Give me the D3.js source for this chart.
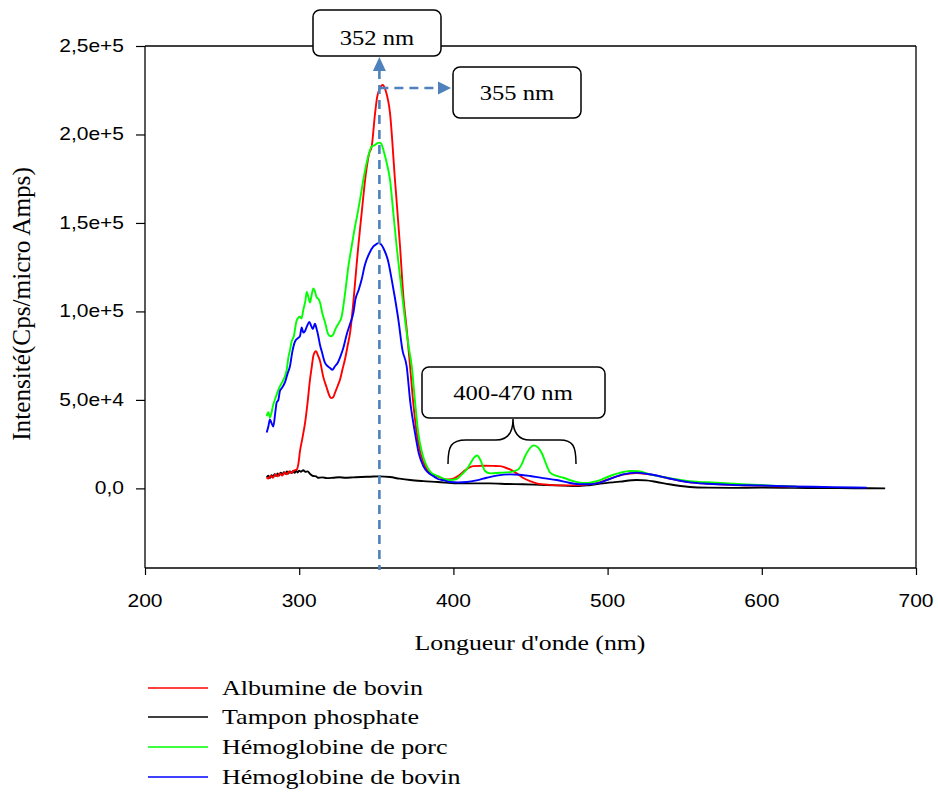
<!DOCTYPE html>
<html>
<head>
<meta charset="utf-8">
<script src="https://cdn.jsdelivr.net/npm/d3@7/dist/d3.min.js"></script>
<style>
  html, body { margin: 0; padding: 0; background: #fff; }
  svg { display: block; }
</style>
</head>
<body>
<svg id="chart" width="938" height="793"></svg>
<script>
// ---------------- DATA ----------------
const seriesNames = ["Albumine de bovin", "Tampon phosphate", "Hémoglobine de porc", "Hémoglobine de bovin"];
const seriesColors = ["#ff0000", "#000000", "#00ff00", "#0000ff"];

const xTicks = [200, 300, 400, 500, 600, 700];
const yTicks = [0, 50000, 100000, 150000, 200000, 250000];
const yTickLabels = ["0,0", "5,0e+4", "1,0e+5", "1,5e+5", "2,0e+5", "2,5e+5"];

// Albumine de bovin (red)
const albWl = [278.9,280,281.5,283,284.5,286,287.5,289,290.5,292,293.5,295,296.5,298.4,299.5,300.5,302,303.8,305.5,307,308.2,309.2,310.9,312.2,313.5,315.6,317.8,319.3,320.6,322,323.2,325,326.5,328,329.7,331.5,333,334,335.1,336.8,338.3,340.5,343.3,345.3,347,349.2,350.6,352.3,354.1,356,358.9,362.1,365.4,367.5,369.7,371.9,374,376.2,378.5,381.6,385,389.2,393,397,400,404,408,413,420,426,430,433.5,436.7,441,445,450,454,462,472,480,487,493,500,510,518.8,525,531.8,540,553.4,570,590,610,622];
const albVal = [6200,5500,7000,6000,7800,6800,8500,7200,9000,8000,9600,8800,10000,10700,14000,21000,28000,37000,49000,61500,69000,75000,77500,75000,72000,63000,57000,53000,51000,51500,54000,58000,61500,67000,73000,81000,88000,95400,105000,122000,136700,155600,178300,189000,193200,212000,221400,226000,228000,225000,212000,174400,136700,109000,90000,69000,48000,31400,20500,12600,8500,6900,5500,5000,5500,7500,10500,12600,12800,12700,12600,11800,10700,8500,6000,4000,2800,2000,1700,1700,2200,3000,5000,7800,8700,8200,7200,5600,3400,2500,1800,1200,1000];

// Tampon phosphate (black)
const tamWl = [278.9,280,281,282,283,284,285,286,287,288,289,290,291,292,293,294,295,296,297,298,299,300,301,302.7,304,305.5,307,309,311,312,315,318,322,326,330,335,340,346,352,358.9,365,372,380.5,390,402,412,423.7,435,445,456,467,480,488,497,508,518.8,525,531.8,540,553.4,565,580,600,620,640,660,680];
const tamVal = [6200,7200,5800,7500,6400,8000,7000,8400,7200,8800,7800,9200,8200,9500,8400,9600,8600,9800,8800,10000,9000,10000,9400,10200,9400,9600,8200,7000,6800,6000,6200,5800,6000,6300,6000,6200,6400,6600,6800,6400,5500,4700,4100,3600,2800,2800,2800,2500,2300,2000,1700,1300,1800,2800,3800,4700,4500,3600,2300,800,400,300,400,300,200,100,0];

// Hémoglobine de porc (green)
const porWl = [278.9,280,281,283.2,285,287.5,289,291.9,293,294,295.1,296.5,298.4,300.5,301.5,302.7,304,304.9,306,307,308,309.2,310.3,311.3,312.5,313.5,315,316.7,318.9,320.5,322.1,323.5,325.4,327.5,330,332,334,336,338,340,341.6,344,347,349,350.5,351.9,353,355,357,358.9,361,363.2,366,368.6,371,373,375,377.2,380,382.7,386,390.2,394,398,402,405,408.6,411,413.5,415.5,417.5,420.5,423.7,430,436.7,442,444.5,446.4,449,452.3,455,457.3,460,462.7,467,471.3,477,482,486,490.5,496,501.5,508,514.5,520,527.5,540,553,570,590,610,623];
const porVal = [40800,43000,40000,47400,52000,57700,60000,67000,74000,78000,83000,86000,95000,97000,96000,101000,106000,111000,108000,105000,109000,113000,111000,108000,107000,105000,99000,94000,87000,86000,87000,90000,93000,97000,112000,126000,136700,147000,156000,166000,174400,185000,193200,194000,195000,195400,195000,190000,183000,174400,156000,136700,115000,95400,80000,69000,50000,31400,19000,12600,8500,6900,5300,4700,5300,7500,10700,14000,17500,18600,16000,9800,8500,8800,9200,10700,14000,18000,22000,24300,23000,20000,14000,8900,7000,6000,4300,3200,3000,3600,5000,7000,8800,9800,9700,7900,5800,4100,3200,2200,1400,1000];

// Hémoglobine de bovin (blue)
const bovWl = [278.9,280,281,282,283.2,284.5,285.4,286.5,287.5,289,290.8,292.5,294,295.5,297.3,299.4,300.5,301.6,302.7,303.8,305.2,306.6,307.7,308.8,310.2,311.3,312.4,313.5,314.6,316.7,318.5,320,321.5,323.2,325,326.5,328.5,330.8,333,335.1,336.5,338.5,340.5,342.5,345,348.1,350,351.3,353,355,357.5,360,362,364.3,367,369.7,372,375.1,377.5,380.5,383.5,387,390,394,398,403,408.6,415,421.6,428,436.7,443,449.7,458,467,475,482,487,493,500,510,518.8,525,531.8,540,553.4,565,580,600,620,640,660,668];
const bovVal = [31600,35000,39000,37000,35000,43000,48500,50000,55000,57000,60000,65000,69000,77000,83000,85000,86000,91000,88000,89000,92000,94000,92000,90000,93000,90000,86000,81000,77500,71000,69000,68000,67000,69000,71000,74000,79000,87000,93000,99000,107000,112000,118000,126000,132000,136700,138000,138600,138000,135000,129000,118000,108000,95400,78000,69000,49000,31400,20000,12600,9000,6900,5300,4500,3600,3400,3600,4500,6000,7200,7900,7700,7000,5800,4700,3200,2300,2300,2800,4800,7900,8900,8300,7300,5600,3400,2600,2000,1600,1100,800,500,400];

const wlArrays = [albWl, tamWl, porWl, bovWl];
const valArrays = [albVal, tamVal, porVal, bovVal];

// ---------------- LAYOUT ----------------
const svg = d3.select("#chart");
const L = 145, R = 916, T = 46, B = 568;
const SX = 1.2; // horizontal text stretch of the original picture

const x = d3.scaleLinear().domain([200, 700]).range([L, R]);
const y = d3.scaleLinear().domain([-45000, 250000]).range([B, T]);

svg.append("rect").attr("width", 938).attr("height", 793).attr("fill", "#fff");

// frame (top & right)
svg.append("line").attr("x1", L).attr("x2", R).attr("y1", T).attr("y2", T)
  .attr("stroke", "#000").attr("stroke-width", 1.3);
svg.append("line").attr("x1", R).attr("x2", R).attr("y1", T).attr("y2", B)
  .attr("stroke", "#000").attr("stroke-width", 1.3);

// axes
const yAxis = d3.axisLeft(y).tickValues(yTicks).tickSize(9).tickFormat("");
const gy = svg.append("g").attr("transform", `translate(${L},0)`).call(yAxis);
const xAxis = d3.axisBottom(x).tickValues(xTicks).tickSize(7).tickFormat("");
const gx = svg.append("g").attr("transform", `translate(0,${B})`).call(xAxis);
[gx, gy].forEach(g => {
  g.select(".domain").attr("stroke", "#000").attr("stroke-width", 1.3);
  g.selectAll(".tick line").attr("stroke", "#000").attr("stroke-width", 1.2);
});
gx.select(".domain").attr("d", `M${L},0H${R}`);
gy.select(".domain").attr("d", `M0,${B}V${T}`);

function stretchedText(px, py, str, opts) {
  const g = svg.append("g").attr("transform", `translate(${px},${py}) scale(${SX},1)`);
  return g.append("text").attr("x", 0).attr("y", 0)
    .attr("font-family", opts.family)
    .attr("font-size", opts.size)
    .attr("text-anchor", opts.anchor || "start")
    .attr("fill", "#000")
    .text(str);
}
const SANS = "'Liberation Sans', Arial, sans-serif";
const SERIF = "'Liberation Serif', 'Times New Roman', serif";
yTicks.forEach((v, i) => {
  stretchedText(124, y(v) + 6, yTickLabels[i], {family: SANS, size: 17.5, anchor: "end"});
});
xTicks.forEach(v => {
  stretchedText(x(v), 607, String(v), {family: SANS, size: 17.5, anchor: "middle"});
});

// axis titles
stretchedText(530, 650, "Longueur d'onde (nm)", {family: SERIF, size: 21.5, anchor: "middle"});
svg.append("g").attr("transform", "translate(30,304) rotate(-90) scale(1.2,1.15)")
  .append("text")
  .attr("font-family", SERIF)
  .attr("font-size", 21)
  .attr("text-anchor", "middle")
  .text("Intensité(Cps/micro Amps)");

// ---------------- LINES ----------------
const line = d3.line().x(d => x(d[0])).y(d => y(d[1])).curve(d3.curveMonotoneX);
const order = [1, 0, 2, 3];
order.forEach(i => {
  const pts = wlArrays[i].map((w, k) => [w, valArrays[i][k]]);
  svg.append("path").datum(pts)
    .attr("d", line)
    .attr("fill", "none")
    .attr("stroke", seriesColors[i])
    .attr("stroke-width", 1.9)
    .attr("stroke-linejoin", "round");
});

// ---------------- ANNOTATIONS ----------------
const annoColor = "#4f81bd";
const peakX = x(352);
const hY = y(226300);
svg.append("line").attr("x1", peakX).attr("x2", peakX).attr("y1", 70).attr("y2", B + 2)
  .attr("stroke", annoColor).attr("stroke-width", 2.6).attr("stroke-dasharray", "9,6");
svg.append("path").attr("d", `M${peakX},57 L${peakX - 6.5},71 L${peakX + 6.5},71 Z`).attr("fill", annoColor);
svg.append("line").attr("x1", peakX).attr("x2", 440).attr("y1", hY).attr("y2", hY)
  .attr("stroke", annoColor).attr("stroke-width", 2.6).attr("stroke-dasharray", "9,6");
svg.append("path").attr("d", `M451,${hY} L438,${hY - 6.5} L438,${hY + 6.5} Z`).attr("fill", annoColor);

function box(x0, y0, w, h, label, cx, by) {
  svg.append("rect").attr("x", x0).attr("y", y0).attr("width", w).attr("height", h)
    .attr("rx", 7).attr("ry", 7).attr("fill", "#fff").attr("stroke", "#000").attr("stroke-width", 1.5);
  stretchedText(cx, by, label, {family: SERIF, size: 20.5, anchor: "middle"});
}
box(313, 10, 128, 46, "352 nm", 377, 45);
box(453, 67, 128, 51, "355 nm", 517, 100);
box(422, 367, 183, 51, "400-470 nm", 513, 400);

// brace
svg.append("path")
  .attr("d", "M448,464 C448,446 451,440 466,440 L496,440 C507,440 513,434 513,419 C513,434 519,440 530,440 L560,440 C573,440 576,446 576,464")
  .attr("fill", "none").attr("stroke", "#000").attr("stroke-width", 1.5);

// ---------------- LEGEND ----------------
const legY = [688, 717, 747, 777];
seriesNames.forEach((name, i) => {
  svg.append("line").attr("x1", 148).attr("x2", 208).attr("y1", legY[i]).attr("y2", legY[i])
    .attr("stroke", seriesColors[i]).attr("stroke-width", 1.5);
  stretchedText(222, legY[i] + 7, name, {family: SERIF, size: 21.7});
});
</script>
</body>
</html>
